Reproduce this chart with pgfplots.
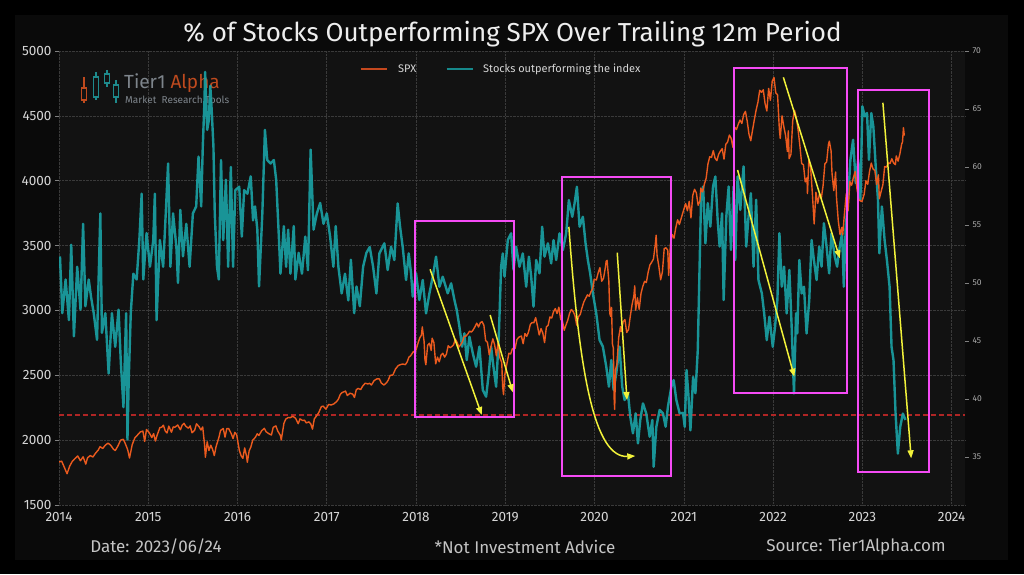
\documentclass[border=0pt]{standalone}
\usepackage{pgfplots}
\pgfplotsset{compat=1.18}
\usepackage{fontspec}
\setmainfont{Fira Sans}
\usetikzlibrary{arrows.meta}
\definecolor{spx}{HTML}{EB5A1E}
\definecolor{tl}{HTML}{1AA3A6}
\definecolor{spxleg}{HTML}{C4481E}
\definecolor{tlleg}{HTML}{16898B}
\definecolor{mag}{HTML}{F54BF5}
\definecolor{yel}{HTML}{F2F23A}
\definecolor{redd}{HTML}{B02525}
\definecolor{gridc}{HTML}{3A3A3A}
\definecolor{plotbg}{HTML}{121212}
\definecolor{figbg}{HTML}{0A0A0A}
\definecolor{ticklab}{HTML}{D6D6D6}
\definecolor{foot}{HTML}{C4C4C4}
\definecolor{logogray}{HTML}{7E858C}
\definecolor{logoor}{HTML}{BE4A1E}
\definecolor{logotl}{HTML}{1E8A8C}
\begin{document}
\begin{tikzpicture}[x=1pt,y=1pt]
\useasboundingbox (0,0) rectangle (1024,574);
\fill[black] (0,0) rectangle (1024,574);
\fill[figbg] (15,14) rectangle (1008,559);
% title
\node[text={rgb,255:red,238;green,238;blue,238}, font=\fontsize{26}{28}\selectfont] at (512.5,540) {\% of Stocks Outperforming SPX Over Trailing 12m Period};
% footer
\node[text=foot, font=\fontsize{17}{19}\selectfont] at (156,27) {Date: 2023/06/24};
\node[text=foot, font=\fontsize{17}{19}\selectfont] at (525,27) {*Not Investment Advice};
\node[text=foot, font=\fontsize{17}{19}\selectfont] at (856,27) {Source: Tier1Alpha.com};

\begin{axis}[
  at={(59pt,69pt)}, anchor=south west, scale only axis,
  width=906pt, height=454pt,
  xmin=2014, xmax=2024.15, ymin=1500, ymax=5000,
  axis background/.style={fill=plotbg},
  axis line style={draw=none},
  xtick={2014,2015,...,2024}, ytick={1500,2000,...,5000},
  grid=major, grid style={densely dotted, color=gridc, line width=0.6pt},
  tick label style={font=\fontsize{13.5}{14}\selectfont, text=ticklab},
  /pgf/number format/1000 sep={}, /pgf/number format/assume math mode=true,
  x tick style={draw=none},
  y tick style={color=gray, line width=0.6pt},
  tick align=outside, ytick pos=left, xtick pos=bottom, major tick length=4pt,
]
\addplot[redd, line width=1.2pt, dash pattern=on 5pt off 3pt, forget plot] coordinates {(2014,2194) (2024.15,2194)};
\end{axis}

% logo (behind data)
\begin{scope}[line width=1.1pt]
\draw[logoor] (84,497) -- (84,486); \draw[logoor] (84,474) -- (84,471); \draw[logoor] (81.5,474) rectangle (86.5,486);
\draw[logotl] (96,502) -- (96,497); \draw[logotl] (96,477) -- (96,474); \draw[logotl] (93.5,477) rectangle (98.5,497);
\draw[logotl] (107,504) -- (107,500); \draw[logotl] (107,491) -- (107,487); \draw[logotl] (104.5,491) rectangle (109.5,500);
\draw[logotl] (116,494) -- (116,489); \draw[logotl] (116,477) -- (116,471); \draw[logotl] (113.5,477) rectangle (118.5,489);
\end{scope}
\node[anchor=west, inner sep=0pt, font=\fontsize{19}{20}\selectfont] at (124,491) {\textcolor{logogray}{Tier1} \textcolor{logoor}{Alpha}};
\node[anchor=west, inner sep=0pt, text=logogray, font=\fontsize{10}{11}\selectfont] at (125,474) {Market\ \ Research Tools};
% legend
\draw[spxleg, line width=1.4pt] (360.7,505) -- (387.3,505);
\node[anchor=west, inner sep=0pt, text=ticklab, font=\fontsize{11}{12}\selectfont] at (398,505) {SPX};
\draw[tlleg, line width=1.4pt] (446.7,505) -- (473.3,505);
\node[anchor=west, inner sep=0pt, text=ticklab, font=\fontsize{11}{12}\selectfont] at (483,505) {Stocks outperforming the index};

\begin{axis}[
  at={(59pt,69pt)}, anchor=south west, scale only axis,
  width=906pt, height=454pt,
  xmin=2014, xmax=2024.15, ymin=30.86, ymax=70,
  axis x line=none, axis y line*=right,
  axis line style={draw=none},
  ytick={35,40,...,70},
  yticklabel style={font=\fontsize{8.5}{9}\selectfont, text={rgb,255:red,170;green,170;blue,170}},
  /pgf/number format/assume math mode=true,
  y tick style={color=gray, line width=0.6pt},
  tick align=outside, major tick length=4pt,
]
\addplot[tl, line width=2.4pt, opacity=0.9, line join=round] coordinates {
(2014.011,52.3) (2014.037,47.4) (2014.074,50.3) (2014.111,46.8) (2014.137,53.3) (2014.167,45.4) (2014.204,51.4) (2014.241,47.7) (2014.270,55.1) (2014.296,48.0)
(2014.333,50.3) (2014.359,48.8) (2014.389,47.4) (2014.426,45.1) (2014.463,56.0) (2014.481,45.7) (2014.519,47.4) (2014.556,42.2) (2014.593,47.4) (2014.630,44.5)
(2014.667,47.7) (2014.693,43.1) (2014.722,39.3) (2014.752,47.4) (2014.767,36.5) (2014.781,41.6) (2014.804,47.4) (2014.833,50.8) (2014.870,50.3) (2014.900,53.7)
(2014.926,57.7) (2014.944,50.3) (2014.981,54.3) (2015.019,51.4) (2015.056,53.7) (2015.074,57.7) (2015.093,46.8) (2015.130,53.7) (2015.167,51.4) (2015.196,56.0)
(2015.222,60.3) (2015.248,51.4) (2015.278,56.0) (2015.315,53.1) (2015.333,50.0) (2015.359,56.3) (2015.389,52.3) (2015.426,55.1) (2015.463,51.4) (2015.500,56.0)
(2015.537,56.6) (2015.563,60.9) (2015.593,56.6) (2015.611,61.8) (2015.630,65.8) (2015.637,68.2) (2015.660,63.2) (2015.678,64.0) (2015.695,67.0) (2015.710,65.0)
(2015.730,61.8) (2015.745,56.0) (2015.770,51.4) (2015.790,50.3) (2015.815,60.6) (2015.840,53.7) (2015.870,58.9) (2015.895,51.4) (2015.925,60.0) (2015.950,51.4)
(2015.975,58.0) (2016.019,58.3) (2016.048,54.0) (2016.074,58.0) (2016.111,57.7) (2016.148,59.2) (2016.174,55.4) (2016.196,56.6) (2016.222,54.6) (2016.241,49.7)
(2016.278,56.0) (2016.307,63.2) (2016.333,60.6) (2016.370,60.3) (2016.407,60.6) (2016.433,58.9) (2016.463,54.0) (2016.481,50.8) (2016.519,54.9) (2016.544,51.4)
(2016.567,54.6) (2016.593,50.8) (2016.630,54.9) (2016.648,50.3) (2016.685,52.6) (2016.722,50.8) (2016.759,54.0) (2016.789,51.1) (2016.819,61.5) (2016.852,54.6)
(2016.889,56.0) (2016.926,56.9) (2016.963,55.1) (2017.000,56.0) (2017.037,54.0) (2017.074,51.4) (2017.100,54.9) (2017.130,51.4) (2017.167,49.1) (2017.204,50.8)
(2017.241,48.5) (2017.270,52.0) (2017.307,47.4) (2017.333,49.7) (2017.370,48.0) (2017.407,51.4) (2017.444,52.6) (2017.481,53.1) (2017.519,51.4) (2017.556,49.1)
(2017.589,52.55) (2017.645,53.42) (2017.682,51.12) (2017.720,53.13) (2017.757,51.98) (2017.794,56.86) (2017.821,54.85) (2017.850,53.13) (2017.888,50.26) (2017.918,52.55)
(2017.944,50.83) (2017.963,48.82) (2018.000,50.83) (2018.037,48.53) (2018.075,50.26) (2018.112,47.38) (2018.150,49.11) (2018.187,50.54) (2018.224,52.27) (2018.262,49.68)
(2018.299,50.54) (2018.355,49.11) (2018.393,49.97) (2018.430,48.53) (2018.456,47.67) (2018.486,46.23) (2018.516,44.51) (2018.542,45.66) (2018.568,43.36) (2018.598,45.37)
(2018.636,43.93) (2018.673,42.78) (2018.710,44.51) (2018.748,40.77) (2018.785,40.20) (2018.815,42.21) (2018.841,44.51) (2018.867,42.78) (2018.897,41.06) (2018.927,45.37)
(2018.953,51.40) (2018.972,52.55) (2018.991,50.54) (2019.028,53.70) (2019.065,54.28) (2019.092,51.12) (2019.121,53.13) (2019.159,51.40) (2019.196,52.55) (2019.234,49.68)
(2019.264,52.27) (2019.290,50.54) (2019.316,47.96) (2019.346,51.98) (2019.383,50.83) (2019.413,54.85) (2019.439,52.27) (2019.477,53.42) (2019.514,51.69) (2019.540,53.70)
(2019.570,51.98) (2019.607,54.28) (2019.645,52.84) (2019.682,54.28) (2019.712,57.15) (2019.750,55.71) (2019.776,56.86) (2019.802,58.30) (2019.832,54.85) (2019.869,55.71)
(2019.899,53.42) (2019.925,51.98) (2019.951,50.83) (2019.981,49.11) (2020.019,47.38) (2020.056,45.08) (2020.093,44.51) (2020.131,42.78) (2020.161,41.06) (2020.187,43.36)
(2020.213,40.77) (2020.243,42.21) (2020.280,44.51) (2020.310,41.06) (2020.336,39.91) (2020.374,40.49) (2020.400,38.47) (2020.430,37.04) (2020.460,38.76) (2020.486,36.17)
(2020.512,38.19) (2020.542,39.62) (2020.579,38.76) (2020.617,36.75) (2020.647,38.19) (2020.662,34.16) (2020.692,37.61) (2020.729,39.05) (2020.766,38.76) (2020.796,37.61)
(2020.822,39.34) (2020.860,41.06) (2020.886,41.63) (2020.916,39.91) (2020.953,38.76) (2020.991,38.8) (2021.010,37.6) (2021.030,42.5) (2021.050,40.5) (2021.074,37.3)
(2021.104,41.9) (2021.130,40.5) (2021.156,44.2) (2021.178,51.98) (2021.193,57.17) (2021.216,58.32) (2021.242,53.42) (2021.268,56.88) (2021.297,54.86) (2021.327,58.32)
(2021.353,59.18) (2021.379,55.44) (2021.401,53.14) (2021.428,56.01) (2021.446,48.53) (2021.476,55.73) (2021.502,58.32) (2021.528,52.85) (2021.558,58.32) (2021.576,51.98)
(2021.602,59.18) (2021.632,56.30) (2021.669,60.05) (2021.699,53.14) (2021.725,55.73) (2021.751,57.74) (2021.781,51.41) (2021.810,57.17) (2021.836,50.26) (2021.874,49.10)
(2021.900,47.38) (2021.929,45.08) (2021.959,47.09) (2021.996,44.50) (2022.022,46.23) (2022.048,48.53) (2022.071,54.29) (2022.097,49.68) (2022.123,51.41) (2022.152,47.38)
(2022.182,51.12) (2022.208,46.23) (2022.234,40.47) (2022.257,47.38) (2022.271,45.65) (2022.294,51.98) (2022.320,49.10) (2022.346,49.68) (2022.375,45.65) (2022.405,48.53)
(2022.431,53.71) (2022.457,51.98) (2022.487,50.26) (2022.517,53.14) (2022.543,51.41) (2022.569,55.15) (2022.599,53.14) (2022.628,50.83) (2022.654,54.29) (2022.691,52.27)
(2022.717,51.41) (2022.747,53.14) (2022.773,54.29) (2022.792,49.68) (2022.814,54.86) (2022.840,57.17) (2022.866,60.62) (2022.896,62.35) (2022.926,58.61) (2022.952,60.62)
(2022.978,57.17) (2023.000,65.23) (2023.026,64.37) (2023.052,64.65) (2023.074,60.62) (2023.100,64.65) (2023.123,63.50) (2023.152,59.76) (2023.175,57.17) (2023.190,52.56)
(2023.219,56.59) (2023.249,53.71) (2023.275,51.98) (2023.305,49.68) (2023.327,44.50) (2023.349,43.35) (2023.372,38.74) (2023.398,35.29) (2023.424,37.59) (2023.454,38.74)
(2023.483,38.2)
};
\end{axis}

\begin{axis}[
  at={(59pt,69pt)}, anchor=south west, scale only axis,
  width=906pt, height=454pt,
  xmin=2014, xmax=2024.15, ymin=1500, ymax=5000,
  hide axis,
]
\addplot[spx, line width=1.4pt, line join=round] coordinates {
(2014.00,1831) (2014.03,1838) (2014.06,1790) (2014.09,1741) (2014.12,1800) (2014.15,1838) (2014.18,1859) (2014.21,1878) (2014.24,1841) (2014.27,1872)
(2014.30,1815) (2014.32,1864) (2014.35,1881) (2014.38,1870) (2014.41,1900) (2014.44,1924) (2014.46,1950) (2014.49,1936) (2014.52,1962) (2014.55,1977)
(2014.58,1960) (2014.61,1930) (2014.63,1920) (2014.66,1955) (2014.69,2000) (2014.72,2007) (2014.74,1978) (2014.77,1925) (2014.79,1862) (2014.82,1965)
(2014.85,2018) (2014.88,2040) (2014.91,2063) (2014.94,2070) (2014.96,1990) (2014.98,2082) (2015.01,2058) (2015.04,2020) (2015.06,2050) (2015.08,1993)
(2015.10,2040) (2015.13,2096) (2015.15,2100) (2015.17,2115) (2015.19,2071) (2015.21,2055) (2015.23,2108) (2015.26,2061) (2015.28,2102) (2015.30,2100)
(2015.33,2117) (2015.36,2080) (2015.38,2116) (2015.40,2130) (2015.42,2107) (2015.45,2092) (2015.47,2110) (2015.49,2057) (2015.52,2077) (2015.54,2126)
(2015.57,2103) (2015.59,2078) (2015.61,2102) (2015.63,1970) (2015.64,1868) (2015.66,1987) (2015.68,1920) (2015.70,1961) (2015.72,1930) (2015.74,1881)
(2015.76,1951) (2015.79,2017) (2015.81,2075) (2015.84,2090) (2015.86,2023) (2015.88,2089) (2015.90,2090) (2015.93,2050) (2015.95,2012) (2015.97,2060)
(2015.99,2043) (2016.02,1922) (2016.04,1880) (2016.06,1860) (2016.08,1940) (2016.10,1880) (2016.11,1829) (2016.13,1917) (2016.15,1948) (2016.17,1999)
(2016.20,2022) (2016.22,2049) (2016.24,2036) (2016.27,2072) (2016.30,2091) (2016.32,2065) (2016.35,2050) (2016.38,2040) (2016.40,2099) (2016.43,2110)
(2016.45,2071) (2016.48,2037) (2016.49,2001) (2016.52,2130) (2016.54,2162) (2016.57,2175) (2016.59,2173) (2016.62,2184) (2016.65,2169) (2016.68,2127)
(2016.70,2164) (2016.73,2151) (2016.75,2154) (2016.77,2133) (2016.80,2141) (2016.82,2126) (2016.84,2085) (2016.86,2164) (2016.88,2182) (2016.91,2213)
(2016.94,2259) (2016.96,2262) (2016.99,2239) (2017.02,2275) (2017.05,2271) (2017.08,2280) (2017.11,2297) (2017.13,2316) (2017.15,2351) (2017.17,2367)
(2017.19,2372) (2017.21,2378) (2017.23,2344) (2017.26,2362) (2017.29,2355) (2017.31,2329) (2017.33,2388) (2017.35,2399) (2017.38,2390) (2017.40,2415)
(2017.43,2439) (2017.46,2433) (2017.48,2438) (2017.50,2425) (2017.53,2459) (2017.56,2472) (2017.59,2472) (2017.61,2441) (2017.64,2425) (2017.67,2443)
(2017.69,2465) (2017.71,2500) (2017.74,2502) (2017.77,2549) (2017.80,2575) (2017.82,2581) (2017.85,2587) (2017.88,2582) (2017.90,2602) (2017.92,2640)
(2017.94,2651) (2017.97,2683) (2017.99,2674) (2018.02,2743) (2018.04,2786) (2018.06,2810) (2018.07,2873) (2018.09,2762) (2018.10,2619) (2018.11,2581)
(2018.13,2732) (2018.15,2747) (2018.17,2691) (2018.18,2786) (2018.20,2752) (2018.22,2588) (2018.24,2640) (2018.26,2604) (2018.28,2656) (2018.30,2670)
(2018.32,2640) (2018.34,2663) (2018.36,2728) (2018.38,2713) (2018.40,2721) (2018.42,2735) (2018.44,2779) (2018.46,2754) (2018.48,2718) (2018.50,2736)
(2018.52,2760) (2018.54,2801) (2018.56,2802) (2018.58,2819) (2018.60,2840) (2018.62,2833) (2018.64,2850) (2018.66,2874) (2018.68,2902) (2018.70,2872)
(2018.72,2905) (2018.74,2914) (2018.76,2885) (2018.78,2767) (2018.80,2755) (2018.82,2658) (2018.84,2723) (2018.86,2781) (2018.88,2736) (2018.90,2649)
(2018.92,2760) (2018.94,2633) (2018.96,2600) (2018.97,2416) (2018.98,2351) (2018.995,2507) (2019.02,2596) (2019.04,2670) (2019.06,2664) (2019.08,2706)
(2019.11,2707) (2019.13,2775) (2019.15,2793) (2019.18,2803) (2019.20,2743) (2019.22,2822) (2019.24,2800) (2019.26,2834) (2019.28,2892) (2019.30,2907)
(2019.32,2905) (2019.34,2945) (2019.36,2881) (2019.38,2811) (2019.40,2860) (2019.42,2826) (2019.44,2752) (2019.46,2873) (2019.48,2886) (2019.50,2950)
(2019.52,2941) (2019.54,2990) (2019.56,3014) (2019.58,2976) (2019.60,3025) (2019.62,2932) (2019.64,2918) (2019.66,2847) (2019.68,2888) (2019.70,2926)
(2019.72,2978) (2019.74,3007) (2019.76,2992) (2019.78,2961) (2019.80,2887) (2019.82,2952) (2019.84,2970) (2019.86,3022) (2019.88,3066) (2019.90,3093)
(2019.92,3120) (2019.94,3110) (2019.96,3145) (2019.98,3168) (2019.995,3240) (2020.02,3235) (2020.04,3289) (2020.06,3330) (2020.08,3225) (2020.10,3247)
(2020.12,3327) (2020.13,3380) (2020.14,3386) (2020.16,3225) (2020.17,2978) (2020.18,2954) (2020.19,3023) (2020.20,2741) (2020.21,2711) (2020.22,2305)
(2020.225,2237) (2020.235,2541) (2020.25,2584) (2020.27,2789) (2020.29,2875) (2020.30,2837) (2020.32,2912) (2020.34,2930) (2020.36,2830) (2020.38,2852)
(2020.40,2955) (2020.42,3044) (2020.44,3112) (2020.45,3190) (2020.46,3002) (2020.48,3097) (2020.50,3009) (2020.52,3130) (2020.54,3185) (2020.56,3224)
(2020.58,3215) (2020.60,3294) (2020.62,3351) (2020.64,3372) (2020.66,3397) (2020.68,3508) (2020.69,3580) (2020.70,3426) (2020.72,3340) (2020.74,3236)
(2020.76,3298) (2020.78,3477) (2020.80,3483) (2020.82,3465) (2020.83,3270) (2020.85,3509) (2020.87,3585) (2020.89,3557) (2020.91,3638) (2020.93,3699)
(2020.95,3663) (2020.97,3709) (2020.99,3756) (2021.02,3824) (2021.04,3768) (2021.06,3841) (2021.08,3714) (2021.10,3887) (2021.12,3934) (2021.14,3907)
(2021.16,3811) (2021.18,3842) (2021.19,3943) (2021.21,3913) (2021.23,3974) (2021.25,4019) (2021.27,4129) (2021.29,4185) (2021.31,4180) (2021.33,4232)
(2021.35,4173) (2021.37,4155) (2021.39,4204) (2021.41,4229) (2021.43,4247) (2021.45,4166) (2021.47,4281) (2021.49,4298) (2021.51,4352) (2021.53,4327)
(2021.55,4258) (2021.57,4412) (2021.59,4395) (2021.61,4436) (2021.63,4468) (2021.65,4441) (2021.67,4509) (2021.69,4535) (2021.71,4459) (2021.73,4358)
(2021.75,4308) (2021.77,4391) (2021.79,4471) (2021.81,4545) (2021.83,4605) (2021.85,4697) (2021.87,4682) (2021.89,4701) (2021.91,4595) (2021.93,4538)
(2021.95,4712) (2021.97,4620) (2021.99,4766) (2022.01,4796) (2022.03,4677) (2022.05,4662) (2022.07,4398) (2022.08,4326) (2022.10,4500) (2022.12,4418)
(2022.14,4348) (2022.16,4225) (2022.17,4384) (2022.18,4170) (2022.20,4204) (2022.22,4463) (2022.24,4543) (2022.26,4488) (2022.28,4392) (2022.30,4271)
(2022.32,4132) (2022.34,4123) (2022.36,3991) (2022.38,4023) (2022.385,3901) (2022.40,4158) (2022.42,4108) (2022.44,3900) (2022.46,3667) (2022.48,3911)
(2022.50,3825) (2022.52,3899) (2022.54,3863) (2022.56,3962) (2022.58,4130) (2022.60,4145) (2022.62,4280) (2022.63,4305) (2022.65,4228) (2022.66,4058)
(2022.68,3924) (2022.70,4067) (2022.71,3873) (2022.73,3693) (2022.75,3585) (2022.77,3640) (2022.78,3583) (2022.80,3752) (2022.82,3901) (2022.84,3770)
(2022.86,3993) (2022.88,3965) (2022.90,4026) (2022.92,4071) (2022.94,3934) (2022.96,3852) (2022.98,3844) (2022.995,3839) (2023.02,3895) (2023.04,3999)
(2023.06,3972) (2023.08,4070) (2023.10,4136) (2023.12,4090) (2023.14,4079) (2023.16,3970) (2023.18,4045) (2023.19,3861) (2023.21,3916) (2023.23,3970)
(2023.25,4109) (2023.27,4105) (2023.29,4138) (2023.31,4133) (2023.33,4169) (2023.35,4136) (2023.37,4124) (2023.38,4191) (2023.40,4151) (2023.42,4205)
(2023.44,4282) (2023.45,4299) (2023.46,4409) (2023.47,4348)
};
% highlight boxes
\draw[mag, line width=1.9pt] (axis cs:2017.989,2181) rectangle (axis cs:2019.095,3689);
\draw[mag, line width=1.9pt] (axis cs:2019.637,1724) rectangle (axis cs:2020.852,4026);
\draw[mag, line width=1.9pt] (axis cs:2021.558,2366) rectangle (axis cs:2022.829,4867);
\draw[mag, line width=1.9pt] (axis cs:2022.952,1757) rectangle (axis cs:2023.751,4699);
% arrows
\begin{scope}[yel, line width=1.5pt, -{Triangle[length=8pt,width=6pt]}]
\draw (axis cs:2018.157,3317) -- (axis cs:2018.736,2194);
\draw (axis cs:2018.830,2965) -- (axis cs:2019.084,2369);
\draw (axis cs:2019.712,3645) .. controls (axis cs:2019.83,2500) and (axis cs:2020.0,1860) .. (axis cs:2020.456,1878);
\draw (axis cs:2020.254,3445) -- (axis cs:2020.363,2309);
\draw (axis cs:2021.602,4083) -- (axis cs:2022.238,2489);
\draw (axis cs:2022.115,4797) -- (axis cs:2022.747,3402);
\draw (axis cs:2023.230,4601) -- (axis cs:2023.547,1860);
\end{scope}
\end{axis}
\end{tikzpicture}
\end{document}
